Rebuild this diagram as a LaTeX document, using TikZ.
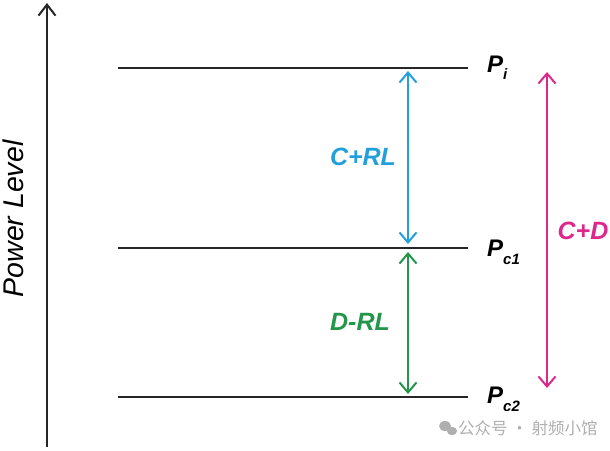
\documentclass[tikz,border=0pt]{standalone}
\usepackage{fontspec}
\setmainfont{Liberation Sans}
\newfontfamily\cjk{Noto Sans CJK SC}
\usetikzlibrary{arrows.meta}
\definecolor{cblue}{RGB}{35,160,220}
\definecolor{cgreen}{RGB}{35,150,75}
\definecolor{cmag}{RGB}{220,40,140}
\definecolor{wm}{RGB}{175,175,175}
\begin{document}
\begin{tikzpicture}[x=1pt,y=-1pt,
  level/.style={line width=2pt,black!85},
  dim/.style={line width=2pt,{Straight Barb[length=10pt,width=17pt,line width=2pt]}-{Straight Barb[length=10pt,width=17pt,line width=2pt]}},
  plab/.style={anchor=base west,inner sep=0pt,font=\fontsize{24}{24}\selectfont\bfseries\itshape},
  dlab/.style={inner sep=0pt,font=\fontsize{25}{25}\selectfont\bfseries\itshape}]
\useasboundingbox (0,0) rectangle (610,450);
% axis
\coordinate (ab) at (47,447);
\coordinate (at) at (47,3);
\draw[line width=2pt,black!85,-{Straight Barb[length=11pt,width=17pt,line width=2pt]}] (ab) -- (at);
\node[rotate=90,inner sep=0pt,font=\fontsize{28.5}{28.5}\selectfont\itshape] (ylab) at (13,219) {Power Level};
% levels
\coordinate (l1a) at (118,68);  \coordinate (l1b) at (468,68);
\coordinate (l2a) at (118,248); \coordinate (l2b) at (468,248);
\coordinate (l3a) at (118,397); \coordinate (l3b) at (468,397);
\draw[level] (l1a) -- (l1b);
\draw[level] (l2a) -- (l2b);
\draw[level] (l3a) -- (l3b);
\node[plab] (pi) at (487,72) {P\raisebox{-7pt}{\fontsize{15}{15}\selectfont i}};
\node[plab] (pc1) at (487,256) {P\raisebox{-8pt}{\fontsize{15}{15}\selectfont c1}};
\node[plab] (pc2) at (487,403) {P\raisebox{-8pt}{\fontsize{15}{15}\selectfont c2}};
% arrows
\coordinate (b1) at (408,71); \coordinate (b2) at (408,244);
\coordinate (g1) at (408,252); \coordinate (g2) at (408,394);
\coordinate (m1) at (547,72); \coordinate (m2) at (547,388);
\draw[dim,cblue] (b1) -- (b2);
\draw[dim,cgreen] (g1) -- (g2);
\draw[dim,cmag] (m1) -- (m2);
\node[dlab,text=cblue] (crl) at (363,157) {C+RL};
\node[dlab,text=cgreen] (drl) at (360,322) {D-RL};
\node[dlab,text=cmag] (cd) at (583,231) {C+D};
% watermark
\fill[wm] (445,426) ellipse (6pt and 5pt);
\fill[wm] (452,431) ellipse (5pt and 4.2pt);
\node[inner sep=0pt,anchor=west,text=wm,font=\cjk\fontsize{16.5}{16.5}\selectfont] (wmk) at (458,428) {公众号 · 射频小馆};
\end{tikzpicture}
\end{document}
